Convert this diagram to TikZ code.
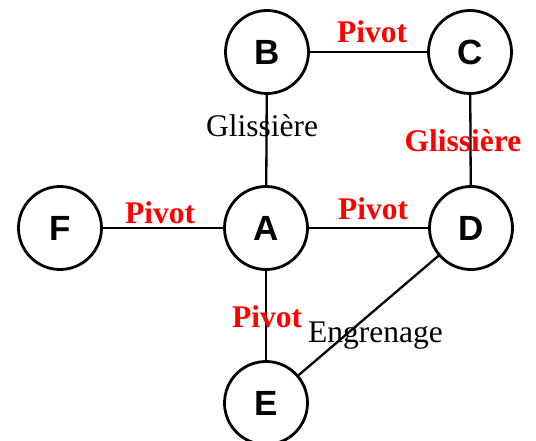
\documentclass[tikz,border=0pt]{standalone}
\usepackage{fontspec}
\setmainfont{Liberation Serif}
\newfontfamily\arialfont{Liberation Sans}
\definecolor{pivred}{RGB}{255,0,0}
\begin{document}
\begin{tikzpicture}[x=1pt,y=-1pt,
  part/.style={circle,draw,line width=2.8pt,minimum size=83pt,inner sep=0pt,
    font=\arialfont\bfseries\fontsize{35}{40}\selectfont},
  link/.style={line width=2.3pt},
  redlab/.style={anchor=base,inner sep=0pt,text=pivred,font=\bfseries\fontsize{31.5}{36}\selectfont},
  blacklab/.style={anchor=base,inner sep=0pt,font=\fontsize{31.5}{36}\selectfont}]
\useasboundingbox (0,0) rectangle (536,441);
\node[part] (B) at (267,52) {B};
\node[part] (C) at (470,52) {C};
\node[part] (F) at (60,228) {F};
\node[part] (A) at (266,228) {A};
\node[part] (D) at (471,228) {D};
\node[part] (E) at (266,403) {E};
\draw[link] (B) -- (C);
\draw[link] (B) -- (A);
\draw[link] (C) -- (D);
\draw[link] (F) -- (A);
\draw[link] (A) -- (D);
\draw[link] (A) -- (E);
\draw[link] (E) -- (D);
\node[redlab] (lbc) at (372,43) {Pivot};
\node[blacklab] (lba) at (262,137) {Glissière};
\node[redlab] (lcd) at (463,152) {Glissière};
\node[redlab] (lfa) at (160,224) {Pivot};
\node[redlab] (lad) at (373,220) {Pivot};
\node[redlab] (lae) at (267,327) {Pivot};
\node[blacklab] (led) at (375.5,342) {Engrenage};
\end{tikzpicture}
\end{document}
